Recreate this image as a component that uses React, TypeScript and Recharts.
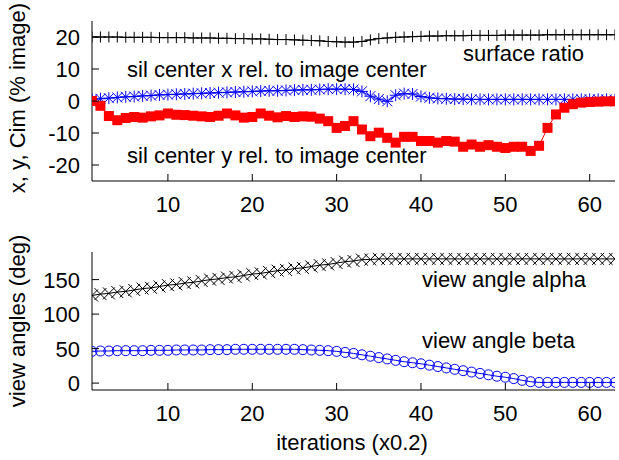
import React from "react";
import { LineChart, Line, XAxis, YAxis } from "recharts";

const iterations = [
  1, 2, 3, 4, 5, 6, 7, 8, 9, 10, 11, 12, 13, 14, 15, 16, 17, 18, 19, 20,
  21, 22, 23, 24, 25, 26, 27, 28, 29, 30, 31, 32, 33, 34, 35, 36, 37, 38, 39, 40,
  41, 42, 43, 44, 45, 46, 47, 48, 49, 50, 51, 52, 53, 54, 55, 56, 57, 58, 59, 60,
  61, 62, 63,
];

const surfaceRatio = [
  20.0, 20.0, 20.0, 20.0, 19.9, 19.9, 19.9, 19.9, 19.8, 19.8,
  19.8, 19.8, 19.7, 19.7, 19.7, 19.6, 19.6, 19.5, 19.5, 19.4,
  19.4, 19.3, 19.2, 19.2, 19.1, 19.0, 18.9, 18.8, 18.6, 18.5,
  18.4, 18.4, 18.6, 19.1, 19.5, 19.7, 19.9, 20.0, 20.1, 20.2,
  20.3, 20.3, 20.4, 20.4, 20.4, 20.5, 20.5, 20.5, 20.5, 20.6,
  20.6, 20.6, 20.6, 20.6, 20.7, 20.7, 20.7, 20.7, 20.7, 20.7,
  20.7, 20.7, 20.7,
];

const silCenterX = [
  0.5, 0.7, 0.9, 1.1, 1.3, 1.4, 1.6, 1.7, 1.9, 2.0,
  2.1, 2.2, 2.3, 2.4, 2.5, 2.6, 2.7, 2.8, 2.9, 3.0,
  3.1, 3.2, 3.2, 3.3, 3.4, 3.5, 3.5, 3.6, 3.7, 3.7,
  3.7, 3.6, 3.0, 1.5, 0.6, -0.1, 1.8, 2.3, 2.2, 1.4,
  1.0, 0.8, 0.7, 0.6, 0.6, 0.5, 0.5, 0.5, 0.5, 0.5,
  0.5, 0.5, 0.5, 0.5, 0.5, 0.5, 0.5, 0.5, 0.5, 0.5,
  0.5, 0.5, 0.4,
];

const silCenterY = [
  0.0, -1.5, -4.7, -6.0, -5.3, -5.0, -5.2, -4.8, -4.5, -3.9,
  -4.3, -4.4, -4.6, -4.8, -5.0, -4.6, -3.9, -4.5, -5.2, -5.0,
  -3.9, -4.6, -5.1, -4.7, -5.0, -4.8, -4.9, -5.5, -6.3, -8.4,
  -7.8, -6.3, -8.9, -11.0, -9.9, -11.5, -13.0, -11.2, -11.2, -12.5,
  -12.5, -13.0, -12.5, -12.7, -14.3, -13.6, -14.3, -13.8, -14.3, -14.7,
  -14.3, -14.3, -15.6, -14.0, -8.4, -4.2, -2.1, -1.0, -0.5, -0.3,
  -0.2, -0.1, -0.1,
];

const viewAlpha = [
  127, 129, 130, 132, 133, 135, 137, 138, 140, 142,
  143, 145, 146, 148, 150, 151, 153, 154, 156, 158,
  159, 161, 163, 164, 166, 167, 169, 171, 172, 174,
  176, 177, 179, 179, 180, 180, 180, 180, 180, 180,
  180, 180, 180, 180, 180, 180, 180, 180, 180, 180,
  180, 180, 180, 180, 180, 180, 180, 180, 180, 180,
  180, 180, 180,
];

const viewBeta = [
  46, 46.5, 46.5, 47, 47, 47, 47, 47.5, 47.5, 47.5,
  48, 48, 48, 48, 48.5, 48.5, 48.5, 49, 49, 49,
  49, 49, 49, 49, 49, 48.5, 48, 47.5, 47, 46,
  44.5, 43, 41, 39, 37, 35, 33, 31, 29.5, 28,
  26, 24, 22, 20, 18, 16, 14, 12, 10, 8.5,
  6.5, 4, 2, 1, 1, 1, 1, 1, 1, 1,
  1, 1, 1,
];

const xTicks = [10, 20, 30, 40, 50, 60];
const topYTicks = [-20, -10, 0, 10, 20];
const bottomYTicks = [0, 50, 100, 150];

const topData = iterations.map((it, i) => ({
  it,
  surface: surfaceRatio[i],
  silX: silCenterX[i],
  silY: silCenterY[i],
}));

const bottomData = iterations.map((it, i) => ({
  it,
  alpha: viewAlpha[i],
  beta: viewBeta[i],
}));

const FONT = '"Liberation Sans", Arial, Helvetica, sans-serif';
const FS = 22;
const TL = 7; // inward tick length

const BottomTick = (props: any) => {
  const { x, y, payload } = props;
  return (
    <g>
      <line x1={x} x2={x} y1={y} y2={y - TL} stroke="#000" />
      <text x={x} y={y + 31} textAnchor="middle" fontSize={FS} fontFamily={FONT} fill="#000">
        {payload.value}
      </text>
    </g>
  );
};

const TopTick = (props: any) => {
  const { x, y } = props;
  return <line x1={x} x2={x} y1={y} y2={y + TL} stroke="#000" />;
};

const LeftTick = (props: any) => {
  const { x, y, payload } = props;
  return (
    <g>
      <line x1={x} x2={x + TL} y1={y} y2={y} stroke="#000" />
      <text x={x - 12} y={y} dy="0.36em" textAnchor="end" fontSize={FS} fontFamily={FONT} fill="#000">
        {payload.value}
      </text>
    </g>
  );
};

const RightTick = (props: any) => {
  const { x, y } = props;
  return <line x1={x} x2={x - TL} y1={y} y2={y} stroke="#000" />;
};

// gnuplot-like point types
const plusDot = (props: any) => {
  const { cx, cy, index } = props;
  return <path key={`pl${index}`} d={`M${cx - 5.5},${cy}h11M${cx},${cy - 5.5}v11`} stroke="#000" fill="none" />;
};

const starDot = (props: any) => {
  const { cx, cy, index } = props;
  return (
    <path
      key={`st${index}`}
      d={`M${cx - 6},${cy}h12M${cx},${cy - 6}v12M${cx - 5},${cy - 5}l10,10M${cx - 5},${cy + 5}l10,-10`}
      stroke="#0000ff"
      fill="none"
    />
  );
};

const squareDot = (props: any) => {
  const { cx, cy, index } = props;
  return <rect key={`sq${index}`} x={cx - 5} y={cy - 5} width={10} height={10} fill="#ff0000" />;
};

const crossDot = (props: any) => {
  const { cx, cy, index } = props;
  return <path key={`cr${index}`} d={`M${cx - 6},${cy - 6}l12,12M${cx - 6},${cy + 6}l12,-12`} stroke="#000" fill="none" />;
};

const circleDot = (props: any) => {
  const { cx, cy, index } = props;
  return <circle key={`ci${index}`} cx={cx} cy={cy} r={5} stroke="#0000ff" fill="none" />;
};

export default function App() {
  const axisLine = { stroke: "#000", strokeWidth: 1 };
  return (
    <div style={{ position: "absolute", left: 0, top: 0, width: 619, height: 460, background: "#fff" }}>
      <div style={{ position: "absolute", left: 0, top: 0 }}>
        <LineChart width={619} height={230} data={topData} margin={{ top: 21, right: 4, bottom: 0, left: 0 }}>
          <XAxis dataKey="it" type="number" domain={[1, 63]} ticks={xTicks} allowDataOverflow
            height={49} tickSize={0} tickMargin={0} tickLine={false} axisLine={axisLine} tick={BottomTick} />
          <XAxis xAxisId="top" orientation="top" dataKey="it" type="number" domain={[1, 63]} ticks={xTicks}
            allowDataOverflow height={0} tickSize={0} tickMargin={0} tickLine={false} axisLine={axisLine} tick={TopTick} />
          <YAxis type="number" domain={[-25, 25]} ticks={topYTicks} allowDataOverflow width={92}
            tickSize={0} tickMargin={0} tickLine={false} axisLine={axisLine} tick={LeftTick} />
          <YAxis yAxisId="right" orientation="right" type="number" domain={[-25, 25]} ticks={topYTicks}
            allowDataOverflow width={0} tickSize={0} tickMargin={0} tickLine={false} axisLine={axisLine} tick={RightTick} />
          <Line dataKey="surface" stroke="#000" strokeWidth={1} dot={plusDot} activeDot={false} isAnimationActive={false} />
          <Line dataKey="silX" stroke="#0000ff" strokeWidth={1} dot={starDot} activeDot={false} isAnimationActive={false} />
          <Line dataKey="silY" stroke="#ff0000" strokeWidth={1} dot={squareDot} activeDot={false} isAnimationActive={false} />
        </LineChart>
      </div>
      <div style={{ position: "absolute", left: 0, top: 230 }}>
        <LineChart width={619} height={230} data={bottomData} margin={{ top: 22, right: 4, bottom: 0, left: 0 }}>
          <XAxis dataKey="it" type="number" domain={[1, 63]} ticks={xTicks} allowDataOverflow
            height={70} tickSize={0} tickMargin={0} tickLine={false} axisLine={axisLine} tick={BottomTick} />
          <XAxis xAxisId="top" orientation="top" dataKey="it" type="number" domain={[1, 63]} ticks={xTicks}
            allowDataOverflow height={0} tickSize={0} tickMargin={0} tickLine={false} axisLine={axisLine} tick={TopTick} />
          <YAxis type="number" domain={[-10, 190]} ticks={bottomYTicks} allowDataOverflow width={92}
            tickSize={0} tickMargin={0} tickLine={false} axisLine={axisLine} tick={LeftTick} />
          <YAxis yAxisId="right" orientation="right" type="number" domain={[-10, 190]} ticks={bottomYTicks}
            allowDataOverflow width={0} tickSize={0} tickMargin={0} tickLine={false} axisLine={axisLine} tick={RightTick} />
          <Line dataKey="alpha" stroke="#000" strokeWidth={1} dot={crossDot} activeDot={false} isAnimationActive={false} />
          <Line dataKey="beta" stroke="#0000ff" strokeWidth={1} dot={circleDot} activeDot={false} isAnimationActive={false} />
        </LineChart>
      </div>
      <svg width={619} height={460} style={{ position: "absolute", left: 0, top: 0, pointerEvents: "none" }}
        fontFamily={FONT} fontSize={FS} fill="#000">
        <text x={463} y={61}>surface ratio</text>
        <text x={127} y={77}>sil center x rel. to image center</text>
        <text x={127} y={163}>sil center y rel. to image center</text>
        <text x={422} y={287}>view angle alpha</text>
        <text x={422} y={348}>view angle beta</text>
        <text x={25} y={98} textAnchor="middle" transform="rotate(-90 25 98)">x, y, Cim (% image)</text>
        <text x={25} y={321} textAnchor="middle" transform="rotate(-90 25 321)">view angles (deg)</text>
        <text x={352} y={450} textAnchor="middle">iterations (x0.2)</text>
      </svg>
    </div>
  );
}
